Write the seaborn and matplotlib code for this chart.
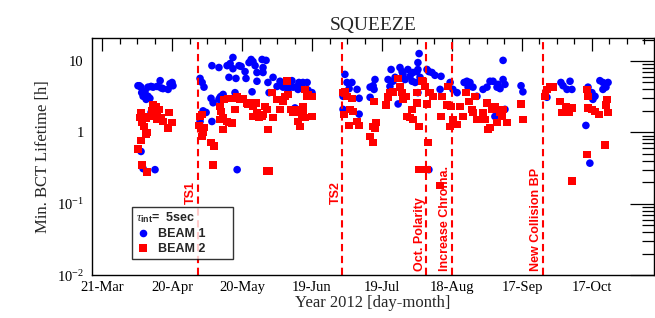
import matplotlib
matplotlib.use("Agg")
import matplotlib.pyplot as plt
import seaborn as sns
import pandas as pd

# days counted from 21 March 2012, minimum BCT lifetime in hours
beam1_day = [
    16, 17, 17.6, 18.9, 19.7, 21, 21.9, 23.6, 24.9, 26.1, 28.3, 29.1, 30.4, 19.7, 18.4,
    16.7, 21, 16.7, 17.6, 22.7, 15.4, 20.5, 30, 25.3,
    42, 42.9, 43.7, 42, 44.6, 46.7, 47.6, 47.1, 47.1, 50.1, 50.6, 51, 51.9, 53.6, 54.4,
    54.9, 56.1, 56.1, 57.4, 57, 58.7, 59.6, 61.3, 61.7, 63, 63.9, 64.7, 64.3, 65.6, 66.4,
    66.4, 68.6, 69, 70.3, 69, 71.1, 73.3, 71.6, 76.3, 75, 77.6, 79.3, 81.4, 79.7, 81.9,
    83.6, 84.4, 86.1, 87.9, 84, 85.7, 90, 88.3, 82.7, 57.9, 43.3, 50.1,
    104.1, 105, 107.1, 105.9, 109.3, 103.3, 103.3, 110.2, 110.2, 114.9, 114.9, 116.2,
    117, 116.6,
    123.9, 122.6, 123.4, 124.7, 125.6, 127.7, 128.6, 129, 129.9, 131.1, 132, 132.9,
    133.3, 134.2, 135, 135.9, 135.4, 135.4, 136.3, 139.3, 140.1, 141.4, 142.7, 145.3,
    144.9, 126.9, 135.4, 140.1,
    149.2, 150.4, 152.2, 155.2, 156.4, 157.7, 156.9, 159, 160.7, 163.3, 165, 166.3,
    167.6, 169.3, 169.7, 170.6, 171.9, 171.9, 172.7, 172.7, 168.4, 179.6, 180.4,
    190.7, 196.7, 197.6, 199.3, 200.6, 201.4, 208.3, 210, 210.4, 211.3, 207.4, 213.4,
    214.7, 216, 216.9, 214.7, 209.1,
]
beam1_life = [
    4.5, 3.6, 3.2, 2.9, 4.3, 4.4, 4.3, 4.4, 5.3, 4.1, 4.0, 4.8, 4.5, 3.2, 3.7,
    4.3, 1.9, 0.54, 0.31, 0.30, 4.5, 3.0, 5.0, 4.2,
    5.7, 5.0, 4.3, 1.42, 1.9, 3.0, 2.6, 1.42, 8.6, 8.1, 3.1, 3.2, 3.4, 8.6, 5.9,
    9.2, 11.2, 7.8, 5.7, 3.6, 8.6, 8.4, 7.1, 5.7, 9.5, 10.5, 9.8, 3.7, 8.6, 5.2,
    6.9, 10.5, 8.1, 10.2, 6.9, 5.0, 5.9, 3.6, 5.2, 4.4, 4.3, 4.3, 5.3, 4.0, 4.3,
    4.4, 5.0, 5.0, 5.0, 4.0, 4.3, 3.6, 3.9, 2.2, 0.30, 2.0, 2.9,
    6.5, 5.0, 5.0, 4.1, 4.0, 3.2, 2.1, 3.0, 1.8, 3.1, 4.3, 4.5,
    5.5, 4.0,
    7.6, 5.5, 4.4, 5.2, 5.9, 8.1, 7.1, 6.5, 5.5, 7.6, 6.1, 5.2,
    6.9, 5.0, 7.1, 12.7, 9.5, 7.6, 5.9, 7.6, 7.1, 6.9, 6.3, 6.1,
    4.0, 2.5, 3.6, 0.30,
    5.0, 4.0, 3.6, 5.0, 5.2, 5.0, 4.3, 4.3, 3.2, 4.0, 4.3, 5.2,
    5.2, 4.3, 4.7, 4.1, 10.2, 5.5, 4.7, 2.1, 1.67, 4.5, 3.7,
    3.1, 5.0, 4.5, 4.0, 5.2, 4.0, 4.3, 3.6, 2.9, 3.2, 1.25, 5.3,
    5.0, 4.3, 5.0, 4.0, 0.37,
]

beam2_day = [
    16.7, 17.6, 17.1, 18.9, 21.9, 23.1, 21.4, 23.6, 24.4, 23.6, 25.3, 26.1, 28.3, 28.7,
    30, 18, 19.3, 18.9, 16.7, 15.4, 16.3, 20.1, 17.1, 19.3,
    41.6, 42, 42.9, 43.7, 42.9, 43.3, 46.7, 48, 50.6, 51, 50.6, 51.9, 51.9, 53.6, 54.4,
    55.7, 52.3, 54, 56.1, 57, 57.9, 59.1, 60.4, 62.1, 62.6, 63.9, 64.7, 64.7, 66, 66.4,
    67.3, 68.6, 69, 69.9, 70.7, 71.1, 72.9, 73.3, 75, 76.3, 77.6, 78.4, 79.3, 79.7, 81,
    81.9, 82.7, 83.6, 84, 84.9, 85.7, 86.1, 87, 87, 88.3, 90, 90, 87.9, 86.1, 47.6,
    70.7, 71.6,
    103.3, 104.1, 105, 107.1, 103.7, 106.3, 107.6, 105.9, 109.3, 110.2, 114.9, 116.2,
    117, 117.4, 116.2, 116.6,
    121.7, 122.6, 123.4, 124.7, 126.9, 127.7, 128.6, 129, 130.3, 130.7, 132, 133.3,
    132.9, 135, 135, 135.9, 137.1, 138.4, 139.3, 139.7, 140.6, 141.9, 145.7, 148.3,
    145.3, 147.9, 149.2, 150.4, 152.2, 149.6, 153.4, 154.7, 156, 157.3, 158.6, 159,
    159.9, 160.7, 163.3, 164.2, 165, 165.4, 166.3, 167.2, 168.4, 169.3, 170.6, 171.4,
    171.9, 173.6, 179.6, 180.4, 135.9, 139.3, 144.9,
    189.9, 190.7, 192, 193.3, 196.3, 197.2, 198.9, 199.7, 201.4, 200.1, 201.4,
    207.9, 208.3, 208.3, 210, 211.3, 213, 216.4, 216.9, 216, 215.6, 207.9,
]
beam2_life = [
    1.9, 1.62, 1.38, 1.57, 2.4, 2.3, 2.0, 1.84, 2.1, 1.52, 1.62, 1.42, 1.14, 1.9,
    1.38, 1.21, 1.0, 0.94, 0.77, 0.58, 1.62, 1.67, 0.35, 0.28,
    1.25, 1.67, 1.79, 1.17, 0.88, 1.0, 0.72, 0.64, 2.3, 1.97, 1.52, 1.62, 1.10, 1.42, 1.38,
    1.34, 2.9, 3.0, 3.0, 2.1, 3.1, 2.9, 3.0, 2.6, 2.5, 2.6, 2.3, 1.67, 2.6, 1.9,
    1.62, 1.67, 1.79, 2.3, 2.1, 1.1, 3.6, 1.62, 2.9, 2.1, 2.7, 3.2, 5.2, 3.4, 2.1,
    1.9, 1.9, 2.1, 1.42, 1.21, 1.62, 2.3, 1.62, 4.0, 3.4, 3.2, 1.67, 3.2, 1.9, 0.35,
    0.285, 0.29,
    3.6, 3.7, 3.2, 3.0, 1.79, 2.1, 1.97, 1.25, 1.42, 1.25, 0.88, 1.21,
    1.14, 1.38, 0.72, 2.7,
    2.4, 3.1, 3.6, 3.7, 5.7, 4.3, 3.6, 2.9, 3.2, 1.67, 1.62, 1.52,
    2.1, 2.6, 3.6, 1.21, 5.2, 4.4, 2.5, 0.72, 3.6, 3.2, 3.2, 4.4,
    1.67, 2.4, 1.21, 1.52, 1.29, 2.3, 2.3, 1.67, 3.6, 2.7, 2.1, 1.9,
    3.2, 1.52, 1.9, 1.52, 2.6, 1.1, 1.17, 2.1, 2.3, 1.38, 1.9, 1.67,
    2.1, 1.38, 2.5, 1.52, 0.30, 0.30, 0.18,
    3.2, 4.0, 4.3, 4.3, 2.7, 1.9, 2.3, 2.1, 2.2, 1.9, 0.21,
    4.0, 3.2, 2.2, 2.1, 1.97, 1.79, 2.9, 1.9, 2.4, 0.66, 0.49,
]

event_day = [41, 103, 139, 150, 189]
event_label = ["TS1", "TS2", "Oct. Polarity", "Increase Chroma.", "New Collision BP"]

date_ticks = [0, 30, 60, 90, 120, 150, 180, 210]
date_labels = ["21-Mar", "20-Apr", "20-May", "19-Jun", "19-Jul", "18-Aug", "17-Sep", "17-Oct"]

df = pd.DataFrame({
    "day": beam1_day + beam2_day,
    "life": beam1_life + beam2_life,
    "beam": ["BEAM 1"] * len(beam1_day) + ["BEAM 2"] * len(beam2_day),
})

sns.set_style("white")
plt.rcParams["font.family"] = ["Liberation Serif", "DejaVu Serif"]
plt.rcParams["mathtext.fontset"] = "custom"
plt.rcParams["mathtext.rm"] = "Liberation Serif"
plt.rcParams["mathtext.it"] = "Liberation Serif:italic"
plt.rcParams["mathtext.bf"] = "Liberation Sans:bold"

fig = plt.figure(figsize=(6.55, 3.18), dpi=100)
ax = fig.add_axes([0.1405, 0.135, 0.858, 0.7455])

sns.scatterplot(
    data=df, x="day", y="life", hue="beam", style="beam",
    markers={"BEAM 1": "o", "BEAM 2": "s"},
    palette={"BEAM 1": "#0000ff", "BEAM 2": "#ff0000"},
    s=30, linewidth=0, ax=ax,
)

ax.set_yscale("log")

for day, label in zip(event_day, event_label):
    ax.axvline(day, color="#ff0000", lw=1.5, ls=(0, (3.5, 2.2)), zorder=1)
    ybot = 0.1 if label.startswith("TS") else 0.0115
    ax.text(day - 0.3, ybot, label, rotation=90, ha="right", va="bottom",
            color="#ff0000", fontsize=9, fontweight="bold",
            family=["Liberation Sans", "DejaVu Sans"])

ax.set_xticks(date_ticks, labels=date_labels)
ax.set_xticks([d * 7.5 for d in range(-1, 33)], minor=True)
ax.set_yticks([0.01, 0.1, 1, 10], labels=["10$^{-2}$", "10$^{-1}$", "1", "10"])
minor_y = [m * 10.0 ** e for e in range(-2, 2) for m in range(2, 10)]
ax.set_yticks([v for v in minor_y if v < 21], minor=True)
ax.yaxis.set_minor_formatter(matplotlib.ticker.NullFormatter())
ax.set_xlim(-4.3, 236.6)
ax.set_ylim(0.01, 21)

ax.tick_params(axis="both", which="both", direction="in", top=True, right=True,
               colors="black", width=0.9)
ax.tick_params(axis="x", which="major", length=9.5, pad=4, labelsize=10.5)
ax.tick_params(axis="x", which="minor", length=4)
ax.tick_params(axis="y", which="major", length=17, pad=6, labelsize=10.5)
ax.tick_params(axis="y", which="minor", length=8.5)
for sp in ax.spines.values():
    sp.set_color("black")
    sp.set_linewidth(1.0)

ax.set_xlabel("Year 2012 [day-month]", fontsize=12, labelpad=1)
ax.set_ylabel("Min. BCT Lifetime [h]", fontsize=12, labelpad=4)
ax.set_title("SQUEEZE", fontsize=14, pad=6)

leg = ax.legend(
    title=r"$\tau_{\mathbf{int}}$=  5sec", loc="lower left",
    bbox_to_anchor=(0.071, 0.067, 0.18, 0.2), mode="expand", frameon=True,
    fancybox=False,
    prop={"family": "Liberation Sans", "weight": "bold", "size": 9},
    title_fontproperties={"family": "Liberation Sans", "weight": "bold", "size": 9},
    handletextpad=0.6, borderpad=0.3, labelspacing=0.25, handlelength=1.2,
    markerscale=1.0, borderaxespad=0,
)
leg._legend_box.align = "left"
leg.get_frame().set_edgecolor("black")
leg.get_frame().set_linewidth(1.0)

fig.savefig("out.png", dpi=100)
